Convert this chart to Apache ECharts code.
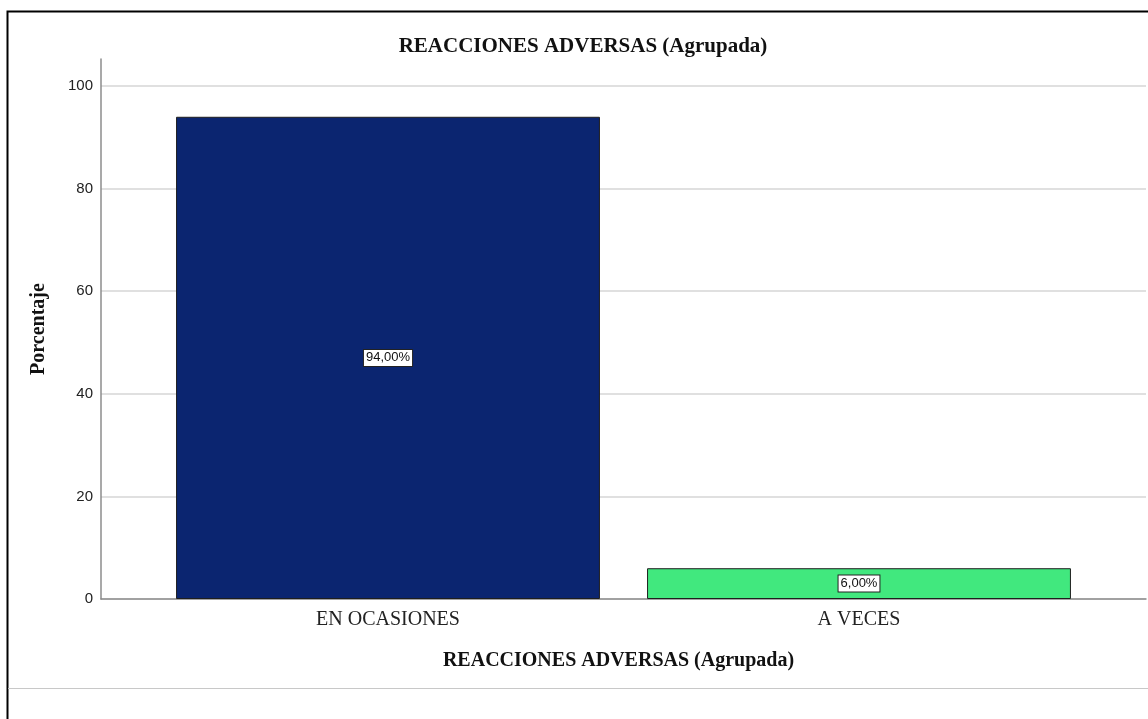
<!DOCTYPE html>
<html>
<head>
<meta charset="utf-8">
<script src="https://cdn.jsdelivr.net/npm/echarts@6/dist/echarts.min.js"></script>
<style>
    html, body { margin: 0; padding: 0; background: #fff; }
    #chart { width: 1148px; height: 719px; }
</style>
</head>
<body>
<div id="chart"></div>
<script>
    // datos del grafico
    var categorias = ['EN OCASIONES', 'A VECES'];
    var porcentajes = [94, 6];
    var coloresBarra = ['#0b2570', '#41e87e'];
    var yTicks = [0, 20, 40, 60, 80, 100];

    var titulo = 'REACCIONES ADVERSAS (Agrupada)';
    var serif = '"Liberation Serif", "DejaVu Serif", serif';
    var sans = '"Liberation Sans", Arial, sans-serif';

    var myChart = echarts.init(document.getElementById('chart'));
    var option = {
        backgroundColor: '#fff',
        animation: false,
        title: {
            text: titulo,
            left: 578,
            textAlign: 'center',
            top: 31,
            textStyle: { fontFamily: serif, fontSize: 21, fontWeight: 'bold', color: '#111' }
        },
        graphic: [
            {   // marco exterior
                type: 'rect',
                shape: { x: 7.5, y: 11.5, width: 1160, height: 720 },
                style: { fill: null, stroke: '#000', lineWidth: 2 },
                silent: true
            },
            {
                type: 'line',
                shape: { x1: 8, y1: 688.5, x2: 1148, y2: 688.5 },
                style: { stroke: '#c8c8c8', lineWidth: 1 },
                silent: true
            }
        ],
        grid: [
            // fondo: lineas de rejilla y eje x
            { left: 101, right: 2, top: 86, bottom: 120 },
            // linea del eje y (sube hasta arriba)
            { left: 101, right: 2, top: 59, bottom: 120 },
            // barras
            { left: 152.5, right: 53.5, top: 86, bottom: 120 }
        ],
        xAxis: [
            {
                gridIndex: 0,
                type: 'value', min: 0, max: 1,
                axisLine: { show: true, lineStyle: { color: '#8c8c8c', width: 1.5 } },
                axisTick: { show: false },
                axisLabel: { show: false },
                splitLine: { show: false },
                name: titulo,
                nameLocation: 'middle',
                nameGap: 52,
                nameTextStyle: { fontFamily: serif, fontSize: 20, fontWeight: 'bold', color: '#111', padding: [0, 10, 0, 0] }
            },
            {
                gridIndex: 1,
                type: 'value', min: 0, max: 1, show: false
            },
            {
                gridIndex: 2,
                type: 'category',
                data: categorias,
                axisLine: { show: false },
                axisTick: { show: false },
                axisLabel: { fontFamily: serif, fontSize: 20, color: '#222', margin: 11 }
            }
        ],
        yAxis: [
            {
                gridIndex: 0,
                type: 'value', min: yTicks[0], max: yTicks[yTicks.length - 1], interval: 20,
                axisLine: { show: false },
                axisTick: { show: false },
                axisLabel: { fontFamily: sans, fontSize: 15, color: '#222', margin: 8 },
                splitLine: { show: true, lineStyle: { color: '#d6d6d6', width: 1.5 } }
            },
            {
                gridIndex: 1,
                type: 'value', min: 0, max: 1,
                axisLine: { show: true, lineStyle: { color: '#8c8c8c', width: 1.5 } },
                axisTick: { show: false },
                axisLabel: { show: false },
                splitLine: { show: false },
                name: 'Porcentaje',
                nameLocation: 'middle',
                nameGap: 52,
                nameTextStyle: { fontFamily: serif, fontSize: 20, fontWeight: 'bold', color: '#111' }
            },
            {
                gridIndex: 2,
                type: 'value', min: 0, max: 100, show: false
            }
        ],
        series: [
            {
                type: 'bar',
                xAxisIndex: 2,
                yAxisIndex: 2,
                barWidth: '90%',
                data: porcentajes.map(function (v, i) {
                    return { value: v, itemStyle: { color: coloresBarra[i] } };
                }),
                itemStyle: { borderColor: '#1e1e1e', borderWidth: 1 },
                label: {
                    show: true,
                    position: 'inside',
                    formatter: function (p) {
                        return p.value.toFixed(2).replace('.', ',') + '%';
                    },
                    fontFamily: sans,
                    fontSize: 13,
                    color: '#111',
                    backgroundColor: '#fff',
                    borderColor: '#222',
                    borderWidth: 1,
                    padding: [2, 2, 1, 2]
                }
            }
        ]
    };
    myChart.setOption(option, true);
</script>
</body>
</html>
